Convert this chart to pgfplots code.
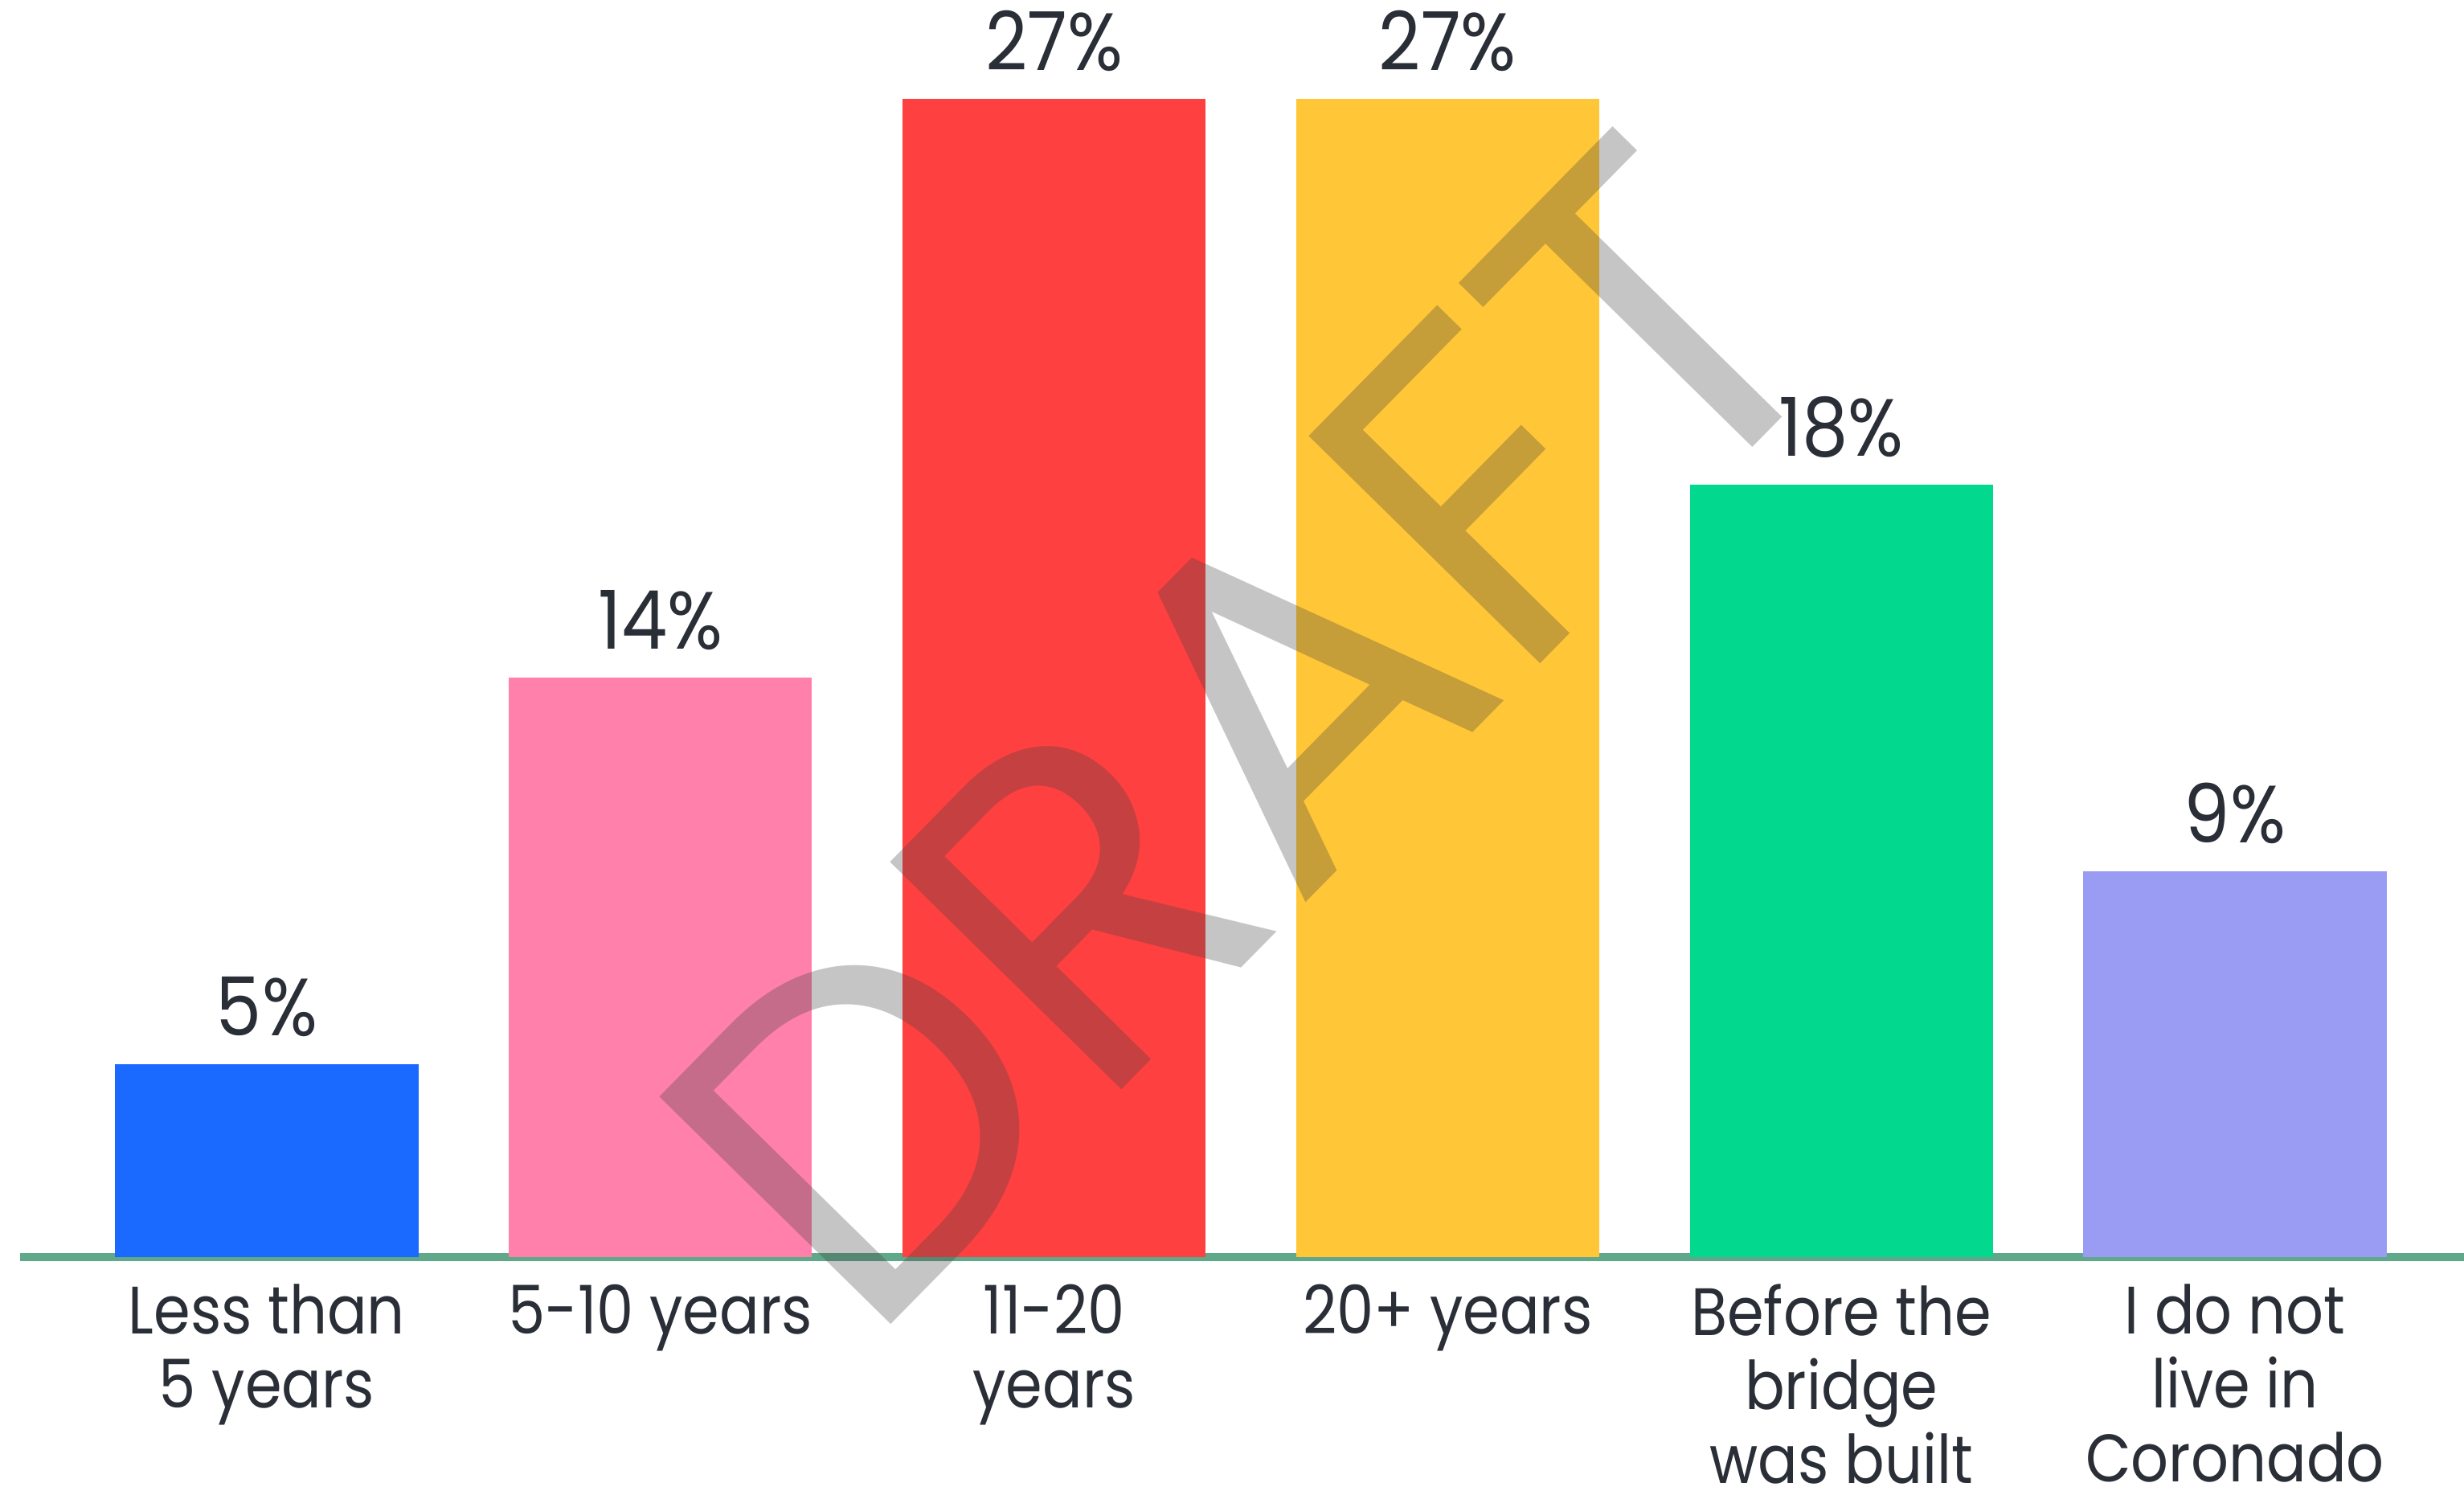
\documentclass[border=0pt]{standalone}
\usepackage{fontspec}
\setmainfont{Poppins}[FakeStretch=0.88]
\newfontfamily\wmfont{Poppins}
\newfontfamily\pctfont{Poppins}[FakeStretch=0.9]
\usepackage{pgfplots}
\pgfplotsset{compat=1.18}
\definecolor{cblue}{HTML}{1A6AFF}
\definecolor{cpink}{HTML}{FF80AB}
\definecolor{cred}{HTML}{FF4040}
\definecolor{cyellow}{HTML}{FFC637}
\definecolor{cgreen}{HTML}{03D98E}
\definecolor{cpurple}{HTML}{999CF2}
\definecolor{caxis}{HTML}{5FA88A}
\definecolor{ctext}{HTML}{2A2E36}
\definecolor{cwm}{HTML}{404040}
\begin{document}
\begin{tikzpicture}
\path[use as bounding box] (0,0) rectangle (16cm,9.6491cm);
\begin{axis}[
  at={(0.130cm,1.487cm)}, anchor=south west,
  scale only axis, width=15.870cm, height=8.162cm,
  xmin=-0.627, xmax=5.582, ymin=0, ymax=29.30,
  axis x line*=bottom, axis y line=none,
  x axis line style={color=caxis, line width=1.5pt},
  ytick=\empty,
  xtick={0,1,2,3,4,5},
  xticklabels={{Less than\\5 years},{5-10 years},{11-20\\years},{20+ years},{Before the\\bridge\\was built},{I do not\\live in\\Coronado}},
  major tick length=0pt,
  xticklabel style={align=center, anchor=north, inner sep=0pt, yshift=-0.17cm, text=ctext, font=\fontsize{12.4}{13.6}\selectfont},
  ybar, bar width=0.770,
  clip=false,
  point meta=explicit symbolic,
  nodes near coords,
  nodes near coords style={anchor=base, inner sep=0pt, yshift=0.185cm, text=ctext, font=\pctfont\fontsize{15}{16}\selectfont},
]
\addplot[fill=cblue, draw=none, bar shift=0pt] coordinates {(0,4.5) [5\%]};
\addplot[fill=cpink, draw=none, bar shift=0pt] coordinates {(1,13.5) [14\%]};
\addplot[fill=cred, draw=none, bar shift=0pt] coordinates {(2,27) [27\%]};
\addplot[fill=cyellow, draw=none, bar shift=0pt] coordinates {(3,27) [27\%]};
\addplot[fill=cgreen, draw=none, bar shift=0pt] coordinates {(4,18) [18\%]};
\addplot[fill=cpurple, draw=none, bar shift=0pt] coordinates {(5,9) [9\%]};
\end{axis}
\node[anchor=base west, inner sep=0pt, rotate=45.5, text=cwm, text opacity=0.3, font=\wmfont\fontsize{86}{90}\selectfont] at (5.62cm,0.88cm) {DRAFT};
\end{tikzpicture}
\end{document}
